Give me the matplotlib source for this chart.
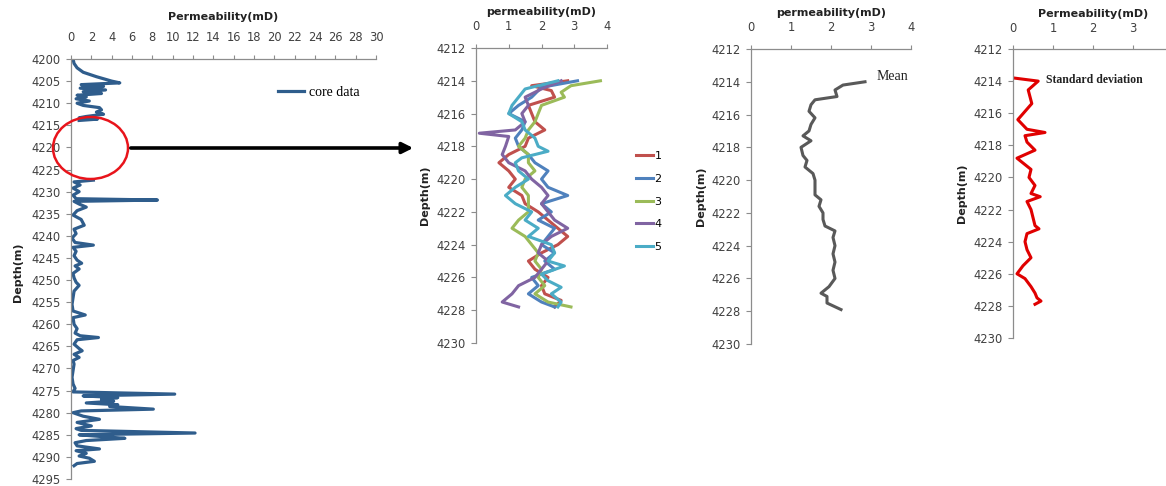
import numpy as np
import matplotlib
matplotlib.use("Agg")
import matplotlib.pyplot as plt
from matplotlib.patches import Ellipse, FancyArrowPatch

W, H = 1166, 486

# ---------------- data ----------------
nan = float("nan")
core_depth = [4200, 4201, 4202, 4203, 4204, 4205, 4205.4, 4205.8, 4206.2, 4206.6, 4207, 4207.4,
              4207.8, 4208.2, 4208.6, 4209, 4209.5, 4210, 4210.5, 4211, 4211.5, 4212, 4212.5,
              4213, 4213.3, 4213.6, 4213.9,
              4220,
              4227.4, 4227.8, 4228.5, 4229.2, 4230, 4230.8, 4231.6, 4231.9, 4232.2, 4232.8,
              4233.5, 4234.3, 4235.3, 4236.3, 4237.6, 4238.5, 4239.5, 4240.5, 4241.5, 4242.1,
              4242.6, 4243.5, 4244.5, 4245.5, 4246.2, 4246.8, 4247.5, 4248.5, 4249.5, 4250.5,
              4251.2, 4252.5, 4254, 4255.5, 4257, 4257.9, 4258.5, 4260, 4261, 4262, 4262.6,
              4263, 4263.5, 4264.5, 4265.5, 4266, 4266.8, 4267.5, 4268.2, 4269, 4270.5,
              4272, 4273.5, 4274.5, 4275.3, 4275.8, 4276.2, 4276.6, 4277, 4277.4, 4277.8,
              4278.2, 4278.6, 4279.2, 4279.6, 4280, 4280.8, 4281.5, 4282.2, 4283, 4283.6,
              4284, 4284.6, 4285, 4285.4, 4285.8, 4286.3, 4286.8, 4287.5, 4288.2, 4288.6,
              4289.2, 4289.8, 4290.3, 4291, 4291.5, 4292]
core_perm = [0.2, 0.3, 0.6, 1.2, 2.5, 4.0, 4.8, 1.0, 3.2, 0.9, 3.4, 1.2,
             3.0, 0.6, 1.5, 0.5, 1.8, 0.6, 1.2, 2.8, 3.0, 2.5, 3.2,
             1.5, 0.8, 2.6, 0.8,
             nan,
             2.2, 0.3, 0.9, 0.2, 0.8, 0.2, 0.5, 8.5, 0.3, 0.8,
             1.5, 0.6, 0.2, 1.0, 1.3, 0.3, 0.5, 0.1, 0.4, 2.2,
             0.2, 0.5, 0.3, 0.6, 1.05, 0.4, 0.8, 0.2, 0.3, 0.5,
             0.8, 0.3, 0.2, 0.1, 0.2, 1.4, 0.2, 0.3, 0.6, 0.4, 0.9,
             2.7, 0.6, 0.3, 0.8, 1.1, 0.3, 0.8, 0.2, 0.3, 0.2,
             0.1, 0.2, 0.4, 0.2, 10.2, 1.2, 4.6, 3.0, 4.2, 1.5,
             4.6, 3.8, 8.1, 1.0, 0.2, 1.2, 2.8, 0.6, 2.0, 0.5,
             1.0, 12.2, 0.8, 3.0, 5.3, 1.5, 0.4, 0.6, 2.8, 0.5,
             1.5, 0.8, 1.8, 2.3, 0.6, 0.3]

r1_depth = [4214.0, 4214.3, 4214.6, 4215, 4215.5, 4216, 4216.5, 4217, 4217.5, 4218, 4218.5, 4219,
            4219.5, 4220, 4220.5, 4221, 4221.5, 4222, 4222.5, 4223, 4223.5, 4224, 4224.5, 4225,
            4225.5, 4226, 4226.5, 4227, 4227.4, 4227.8]
r1_perm = [2.8, 1.7, 2.3, 2.4, 1.6, 1.7, 1.8, 2.1, 1.6, 1.5, 1.0, 0.7,
           1.0, 1.2, 1.0, 1.4, 1.5, 1.9, 2.2, 2.5, 2.8, 2.5, 2.0, 1.6,
           1.8, 2.2, 2.0, 2.1, 2.6, 2.4]
r2_depth = [4214.0, 4214.4, 4215, 4215.5, 4216, 4216.5, 4217, 4217.5, 4218, 4218.5, 4219, 4219.5,
            4220, 4220.5, 4221, 4221.5, 4222, 4222.5, 4223, 4223.5, 4224, 4224.5, 4225, 4225.5,
            4226, 4226.5, 4227, 4227.5, 4227.8]
r2_perm = [3.1, 2.0, 1.7, 1.3, 1.0, 1.5, 1.4, 1.2, 1.3, 1.6, 1.8, 2.2,
           2.0, 2.2, 2.8, 2.0, 2.3, 1.9, 2.4, 2.2, 2.0, 2.4, 2.1, 2.4,
           1.7, 1.9, 1.6, 2.0, 2.4]
r3_depth = [4214.0, 4214.3, 4214.7, 4215, 4215.5, 4216, 4216.5, 4217, 4217.5, 4218, 4218.5, 4219,
            4219.5, 4220, 4220.5, 4221, 4221.5, 4222, 4222.5, 4223, 4223.5, 4224, 4224.5, 4225,
            4225.5, 4226, 4226.5, 4227, 4227.5, 4227.8]
r3_perm = [3.8, 2.9, 2.6, 2.7, 2.0, 1.9, 1.8, 1.6, 1.5, 1.3, 1.6, 1.6,
           1.8, 1.5, 1.4, 1.6, 1.6, 1.6, 1.3, 1.1, 1.5, 1.7, 1.9, 1.8,
           2.0, 1.9, 2.1, 1.8, 2.2, 2.9]
r4_depth = [4214.0, 4214.5, 4215, 4215.5, 4216, 4216.5, 4217, 4217.2, 4217.4, 4218, 4218.5, 4219,
            4219.5, 4220, 4220.5, 4221, 4221.5, 4222, 4222.5, 4223, 4223.5, 4224, 4224.5, 4225,
            4225.5, 4226, 4226.5, 4227, 4227.5, 4227.8]
r4_perm = [2.6, 2.0, 1.5, 1.6, 1.4, 1.5, 1.2, 0.1, 1.0, 0.9, 0.8, 1.0,
           1.5, 1.7, 2.0, 2.2, 2.0, 2.2, 2.4, 2.8, 2.3, 2.0, 1.9, 2.2,
           2.0, 1.8, 1.3, 1.1, 0.8, 1.3]
r5_depth = [4214.0, 4214.5, 4215, 4215.5, 4216, 4216.5, 4217, 4217.5, 4218, 4218.3, 4218.7, 4219,
            4219.5, 4220, 4220.5, 4221, 4221.5, 4222, 4222.5, 4223, 4223.5, 4224, 4224.5, 4225,
            4225.3, 4225.8, 4226.2, 4226.6, 4227, 4227.5, 4227.8]
r5_perm = [2.5, 1.5, 1.3, 1.1, 1.0, 1.4, 1.5, 1.8, 1.9, 2.2, 1.4, 1.2,
           1.3, 1.6, 1.2, 0.9, 1.2, 1.7, 1.5, 1.9, 1.6, 2.3, 2.4, 2.2,
           2.7, 2.0, 2.2, 2.6, 2.3, 2.6, 2.5]
real_labels = ["1", "2", "3", "4", "5"]

mean_depth = [4214, 4214.2, 4214.5, 4214.9, 4215.1, 4215.4, 4215.8, 4216.2, 4216.6, 4217, 4217.3,
              4217.6, 4218, 4218.5, 4218.8, 4219.2, 4219.6, 4220, 4220.5, 4220.9, 4221.2, 4221.6,
              4222, 4222.4, 4222.8, 4223.1, 4223.5, 4224, 4224.5, 4225, 4225.5, 4226, 4226.5,
              4226.9, 4227.1, 4227.5, 4227.9]
mean_perm = [2.85, 2.3, 2.1, 2.15, 1.6, 1.5, 1.45, 1.6, 1.5, 1.45, 1.3,
             1.5, 1.25, 1.3, 1.4, 1.35, 1.55, 1.6, 1.6, 1.6, 1.75, 1.7,
             1.8, 1.8, 1.85, 2.1, 2.05, 2.1, 2.05, 2.1, 2.05, 2.1, 1.95,
             1.75, 1.9, 1.9, 2.25]

std_depth = [4213.8, 4214.0, 4214.55, 4215.4, 4216.4, 4217.0, 4217.2, 4217.4, 4217.8, 4218.3, 4218.8,
             4219.5, 4220, 4220.5, 4221, 4221.2, 4221.5, 4222, 4222.5, 4223, 4223.2, 4223.5,
             4224, 4224.5, 4225, 4225.5, 4226, 4226.3, 4226.8, 4227.2, 4227.5, 4227.7, 4227.9]
std_perm = [0.0, 0.63, 0.38, 0.47, 0.12, 0.35, 0.8, 0.3, 0.35, 0.55, 0.1,
            0.45, 0.4, 0.55, 0.45, 0.68, 0.35, 0.45, 0.5, 0.55, 0.65, 0.35,
            0.3, 0.35, 0.45, 0.25, 0.1, 0.3, 0.45, 0.55, 0.6, 0.7, 0.55]

# ---------------- styling ----------------
AXC = "#8c8c8c"
TXT = "#404040"
TICKFS = 8.3
plt.rcParams["font.family"] = ["DejaVu Sans"]

fig = plt.figure(figsize=(W / 100, H / 100), dpi=100)


def px_axes(left, right, top, bottom):
    return fig.add_axes([left / W, 1 - bottom / H, (right - left) / W, (bottom - top) / H])


def style(ax, xpad):
    for s in ("right", "bottom"):
        ax.spines[s].set_visible(False)
    for s in ("left", "top"):
        ax.spines[s].set_color(AXC)
        ax.spines[s].set_linewidth(0.9)
    ax.xaxis.tick_top()
    ax.tick_params(axis="x", direction="out", length=3, width=0.8, color=AXC,
                   labelsize=TICKFS, labelcolor=TXT, pad=xpad)
    ax.tick_params(axis="y", direction="out", length=3.5, width=0.8, color=AXC,
                   labelsize=TICKFS, labelcolor=TXT, pad=4)
    ax.set_facecolor("none")


def ftext(x, y, s, **kw):
    fig.text(x / W, 1 - y / H, s, **kw)


# Panel 1: core data
ax1 = px_axes(71, 376, 59, 479)
ax1.plot(core_perm, core_depth, color="#2F5D8C", lw=2.3, label="core data",
         solid_joinstyle="round")
ax1.set_xlim(0, 30)
ax1.set_ylim(4295, 4200)
ax1.set_xticks(np.arange(0, 31, 2))
ax1.set_yticks(np.arange(4200, 4296, 5))
style(ax1, 8)
ax1.legend(loc="center left", bbox_to_anchor=(278 / W, 1 - 92 / H), bbox_transform=fig.transFigure,
           frameon=False, handlelength=1.9, handletextpad=0.3, borderpad=0, borderaxespad=0,
           prop={"family": "Liberation Serif", "size": 10})
ftext(223, 17, "Permeability(mD)", ha="center", va="center", fontsize=8, fontweight="bold", color="#222222")
ftext(18, 272, "Depth(m)", ha="center", va="center", rotation=90, fontsize=8, fontweight="bold", color="#222222")

# Panel 2: realizations
ax2 = px_axes(476, 607, 48, 343)
cols = ["#C0504D", "#4F81BD", "#9BBB59", "#8064A2", "#4BACC6"]
for dep, val, c, lab in zip([r1_depth, r2_depth, r3_depth, r4_depth, r5_depth],
                            [r1_perm, r2_perm, r3_perm, r4_perm, r5_perm], cols, real_labels):
    ax2.plot(val, dep, color=c, lw=2.2, label=lab, solid_joinstyle="round")
ax2.set_xlim(0, 4)
ax2.set_ylim(4230, 4212)
ax2.set_xticks(range(0, 5))
ax2.set_yticks(range(4212, 4231, 2))
style(ax2, 8)
ax2.legend(loc="upper left", bbox_to_anchor=(636 / W, 1 - 151 / H), bbox_transform=fig.transFigure,
           frameon=False, handlelength=1.5, handletextpad=0.15, borderpad=0, borderaxespad=0,
           labelspacing=1.15, prop={"size": 8})
ftext(541, 12, "permeability(mD)", ha="center", va="center", fontsize=8, fontweight="bold", color="#222222")
ftext(425, 195, "Depth(m)", ha="center", va="center", rotation=90, fontsize=8, fontweight="bold", color="#222222")

# Panel 3: mean
ax3 = px_axes(751, 911, 49, 344)
ax3.plot(mean_perm, mean_depth, color="#595959", lw=2.2, solid_joinstyle="round")
ax3.set_xlim(0, 4)
ax3.set_ylim(4230, 4212)
ax3.set_xticks(range(0, 5))
ax3.set_yticks(range(4212, 4231, 2))
style(ax3, 8)
ftext(877, 77, "Mean", ha="left", va="center", fontsize=10, family="Liberation Serif", color="#222222")
ftext(831, 13, "permeability(mD)", ha="center", va="center", fontsize=8, fontweight="bold", color="#222222")
ftext(701, 196, "Depth(m)", ha="center", va="center", rotation=90, fontsize=8, fontweight="bold", color="#222222")

# Panel 4: standard deviation
ax4 = px_axes(1013, 1173, 49, 338)
ax4.plot(std_perm, std_depth, color="#E00000", lw=2.2, solid_joinstyle="round")
ax4.set_xlim(0, 4)
ax4.set_ylim(4230, 4212)
ax4.set_xticks(range(0, 4))
ax4.set_yticks(range(4212, 4231, 2))
style(ax4, 7)
ftext(1046, 80, "Standard deviation", ha="left", va="center", fontsize=8.5, fontweight="bold",
      family="Liberation Serif", color="#222222")
ftext(1093, 14, "Permeability(mD)", ha="center", va="center", fontsize=8, fontweight="bold", color="#222222")
ftext(962, 193, "Depth(m)", ha="center", va="center", rotation=90, fontsize=8, fontweight="bold", color="#222222")

# Annotation: red circle and arrow
fig.add_artist(Ellipse((90.5 / W, 1 - 148 / H), 75 / W, 62 / H, transform=fig.transFigure,
                       fill=False, edgecolor="#E8141B", lw=1.8))
fig.add_artist(FancyArrowPatch((128 / W, 1 - 148 / H), (416 / W, 1 - 148 / H),
                               transform=fig.transFigure, arrowstyle="-|>",
                               mutation_scale=16, lw=2.6, color="black"))

fig.savefig("out.png", dpi=100)
